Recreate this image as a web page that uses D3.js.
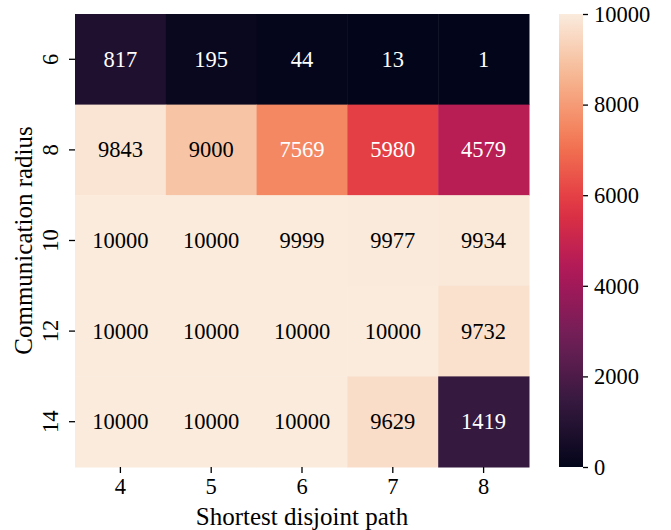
<!DOCTYPE html>
<html>
<head>
<meta charset="utf-8">
<script src="https://cdn.jsdelivr.net/npm/d3@7"></script>
<style>
  body { margin: 0; background: #fff; }
  text { font-family: "Liberation Serif", "DejaVu Serif", serif; }
</style>
</head>
<body>
<div id="chart"></div>
<script>
// data
var paths = ['4', '5', '6', '7', '8'];
var radii = ['6', '8', '10', '12', '14'];
var counts = [
  [817, 195, 44, 13, 1],
  [9843, 9000, 7569, 5980, 4579],
  [10000, 10000, 9999, 9977, 9934],
  [10000, 10000, 10000, 10000, 9732],
  [10000, 10000, 10000, 9629, 1419]
];
var barTicks = [0, 2000, 4000, 6000, 8000, 10000];

// approximate seaborn "rocket" colormap
var rocket = ['#03051a', '#35193e', '#701f57', '#ad1759', '#e13342', '#f37651', '#f6b48f', '#faebdd'];

var fullWidth = 671, fullHeight = 530;
var margin = {top: 14, left: 75};
var width = 454, height = 453;
var fs = '22.5px';

var svg = d3.select('#chart').append('svg')
  .attr('width', fullWidth)
  .attr('height', fullHeight);

var x = d3.scaleBand().domain(paths).range([margin.left, margin.left + width]);
var y = d3.scaleBand().domain(radii).range([margin.top, margin.top + height]);
var color = d3.scaleLinear()
  .domain(rocket.map(function(d, i) { return 10000 * i / (rocket.length - 1); }))
  .range(rocket)
  .interpolate(d3.interpolateRgb)
  .clamp(true);

var cells = [];
counts.forEach(function(row, i) {
  row.forEach(function(v, j) {
    cells.push({r: radii[i], p: paths[j], v: v});
  });
});

// seaborn picks text colour by luminance
function textColor(c) {
  var rgb = d3.rgb(c);
  var lin = [rgb.r, rgb.g, rgb.b].map(function(u) {
    u /= 255;
    return u <= 0.03928 ? u / 12.92 : Math.pow((u + 0.055) / 1.055, 2.4);
  });
  var lum = 0.2126 * lin[0] + 0.7152 * lin[1] + 0.0722 * lin[2];
  return lum > 0.408 ? '#000' : '#fff';
}

svg.append('g').selectAll('rect')
  .data(cells).enter().append('rect')
  .attr('x', function(d) { return x(d.p); })
  .attr('y', function(d) { return y(d.r); })
  .attr('width', x.bandwidth() + 0.5)
  .attr('height', y.bandwidth() + 0.5)
  .attr('fill', function(d) { return color(d.v); });

svg.append('g').selectAll('text')
  .data(cells).enter().append('text')
  .attr('x', function(d) { return x(d.p) + x.bandwidth() / 2; })
  .attr('y', function(d) { return y(d.r) + y.bandwidth() / 2; })
  .attr('text-anchor', 'middle')
  .attr('dominant-baseline', 'central')
  .style('font-size', fs)
  .attr('fill', function(d) { return textColor(color(d.v)); })
  .text(function(d) { return d.v; });

// axes
var xAxis = d3.axisBottom(x).tickSize(6).tickPadding(5);
var gx = svg.append('g')
  .attr('transform', 'translate(0,' + (margin.top + height) + ')')
  .call(xAxis);
gx.select('.domain').remove();
gx.selectAll('line').attr('stroke', '#000').attr('stroke-width', 1.3);
gx.selectAll('text').style('font-size', fs).attr('fill', '#000');

var yAxis = d3.axisLeft(y).tickSize(6).tickPadding(5);
var gy = svg.append('g')
  .attr('transform', 'translate(' + margin.left + ',0)')
  .call(yAxis);
gy.select('.domain').remove();
gy.selectAll('line').attr('stroke', '#000').attr('stroke-width', 1.3);
gy.selectAll('text')
  .style('font-size', fs)
  .attr('fill', '#000')
  .attr('text-anchor', 'middle')
  .attr('dominant-baseline', 'auto')
  .attr('dy', null)
  .attr('x', 0)
  .attr('transform', 'translate(-17,0) rotate(-90)');

svg.append('text')
  .attr('x', margin.left + width / 2)
  .attr('y', 525)
  .attr('text-anchor', 'middle')
  .style('font-size', '25px')
  .text('Shortest disjoint path');

svg.append('text')
  .attr('transform', 'translate(32,' + (margin.top + height / 2) + ') rotate(-90)')
  .attr('text-anchor', 'middle')
  .style('font-size', '25px')
  .text('Communication radius');

// colour bar
var barX = 559, barW = 24;
var cb = d3.scaleLinear().domain([0, 10000]).range([margin.top + height, margin.top]);
var defs = svg.append('defs');
var grad = defs.append('linearGradient')
  .attr('id', 'rocket')
  .attr('x1', 0).attr('y1', 1).attr('x2', 0).attr('y2', 0);
grad.selectAll('stop')
  .data(d3.range(0, 1.0001, 0.05)).enter().append('stop')
  .attr('offset', function(d) { return d; })
  .attr('stop-color', function(d) { return color(d * 10000); });

svg.append('rect')
  .attr('x', barX)
  .attr('y', margin.top)
  .attr('width', barW)
  .attr('height', height)
  .attr('fill', 'url(#rocket)');

var cAxis = d3.axisRight(cb).tickValues(barTicks).tickFormat(d3.format('d')).tickSize(5).tickPadding(6);
var gc = svg.append('g')
  .attr('transform', 'translate(' + (barX + barW) + ',0)')
  .call(cAxis);
gc.select('.domain').remove();
gc.selectAll('line').attr('stroke', '#000').attr('stroke-width', 1.3);
gc.selectAll('text').style('font-size', fs).attr('fill', '#000');
</script>
</body>
</html>
